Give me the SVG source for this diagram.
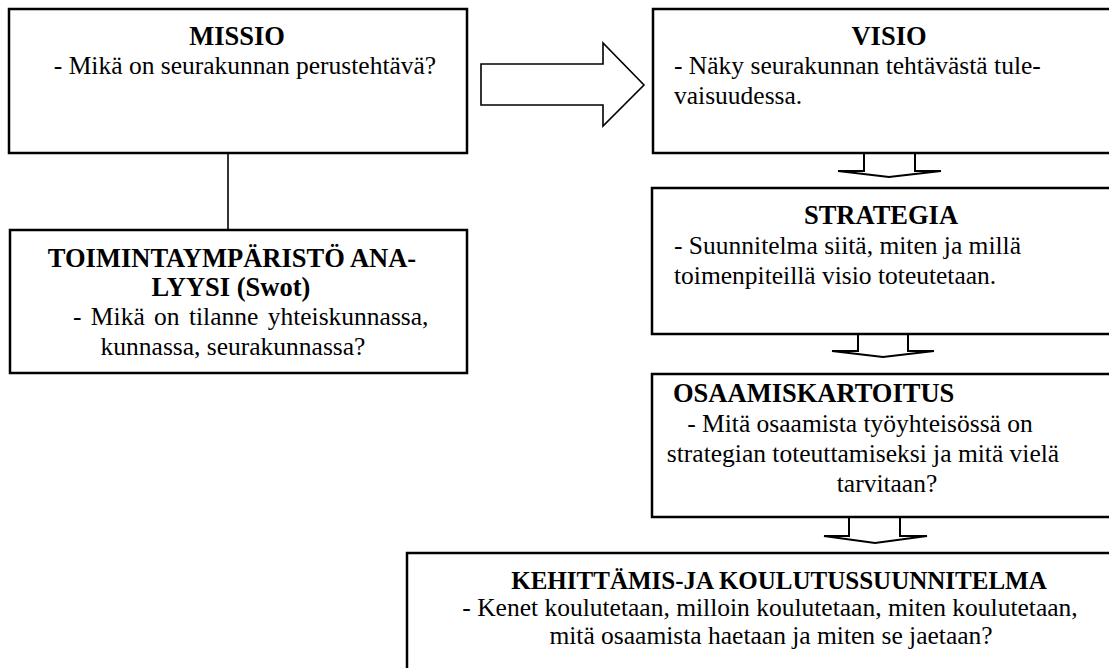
<svg xmlns="http://www.w3.org/2000/svg" width="1109" height="668" viewBox="0 0 1109 668">
<style>
.box{fill:#fff;stroke:#000;stroke-width:2.5}
.arr{fill:#fff;stroke:#000;stroke-width:1.6;stroke-linejoin:miter}
.dn{fill:none;stroke:#000;stroke-width:2}
.ln{fill:none;stroke:#000;stroke-width:1.6}
.t{font-weight:bold;font-size:26.5px}
.c{text-anchor:middle}
</style>
<rect width="1109" height="668" fill="#fff"/>
<g id="connectors">
<line class="ln" x1="228" y1="153" x2="228" y2="230"/>
<polygon class="arr" points="481,64 603,64 603,43 644,85 603,126 603,105 481,105"/>
<path class="dn" d="M864,153 V171 H838 L889,177 L941,171 H915 V153"/>
<path class="dn" d="M858,334 V351 H832 L883,357 L934,351 H908 V334"/>
<path class="dn" d="M849,517 V536 H824 L875,543 L927,536 H900 V517"/>
</g>
<g font-family="Liberation Serif, DejaVu Serif, serif" font-size="25.5" fill="#000">
<g id="missio">
<rect class="box" x="9" y="9" width="458" height="144"/>
<text class="t c" x="237" y="45">MISSIO</text>
<text class="c" x="245" y="74">- Mikä on seurakunnan perustehtävä?</text>
</g>
<g id="toimintaymparisto">
<rect class="box" x="10" y="230" width="457" height="143"/>
<text class="t c" x="232" y="267">TOIMINTAYMPÄRISTÖ ANA-</text>
<text class="t c" x="231" y="296">LYYSI (Swot)</text>
<text x="73" y="325" word-spacing="3">- Mikä on tilanne yhteiskunnassa,</text>
<text class="c" x="233" y="355">kunnassa, seurakunnassa?</text>
</g>
<g id="visio">
<rect class="box" x="653" y="9" width="460" height="144"/>
<text class="t c" x="889" y="45">VISIO</text>
<text x="674" y="74">- Näky seurakunnan tehtävästä tule-</text>
<text x="674" y="104">vaisuudessa.</text>
</g>
<g id="strategia">
<rect class="box" x="652" y="188" width="461" height="146"/>
<text class="t c" x="881" y="224">STRATEGIA</text>
<text x="674" y="254">- Suunnitelma siitä, miten ja millä</text>
<text x="674" y="284">toimenpiteillä visio toteutetaan.</text>
</g>
<g id="osaamiskartoitus">
<rect class="box" x="652" y="374" width="461" height="143"/>
<text class="t" x="673" y="402">OSAAMISKARTOITUS</text>
<text class="c" x="860" y="432">- Mitä osaamista työyhteisössä on</text>
<text class="c" x="863" y="462">strategian toteuttamiseksi ja mitä vielä</text>
<text class="c" x="887" y="492">tarvitaan?</text>
</g>
<g id="kehittamis">
<rect class="box" x="407" y="553" width="710" height="130"/>
<text class="t c" x="779" y="589" font-size="25" style="font-size:25px">KEHITTÄMIS-JA KOULUTUSSUUNNITELMA</text>
<text class="c" x="770" y="616">- Kenet koulutetaan, milloin koulutetaan, miten koulutetaan,</text>
<text class="c" x="771" y="644">mitä osaamista haetaan ja miten se jaetaan?</text>
</g>
</g>
</svg>
